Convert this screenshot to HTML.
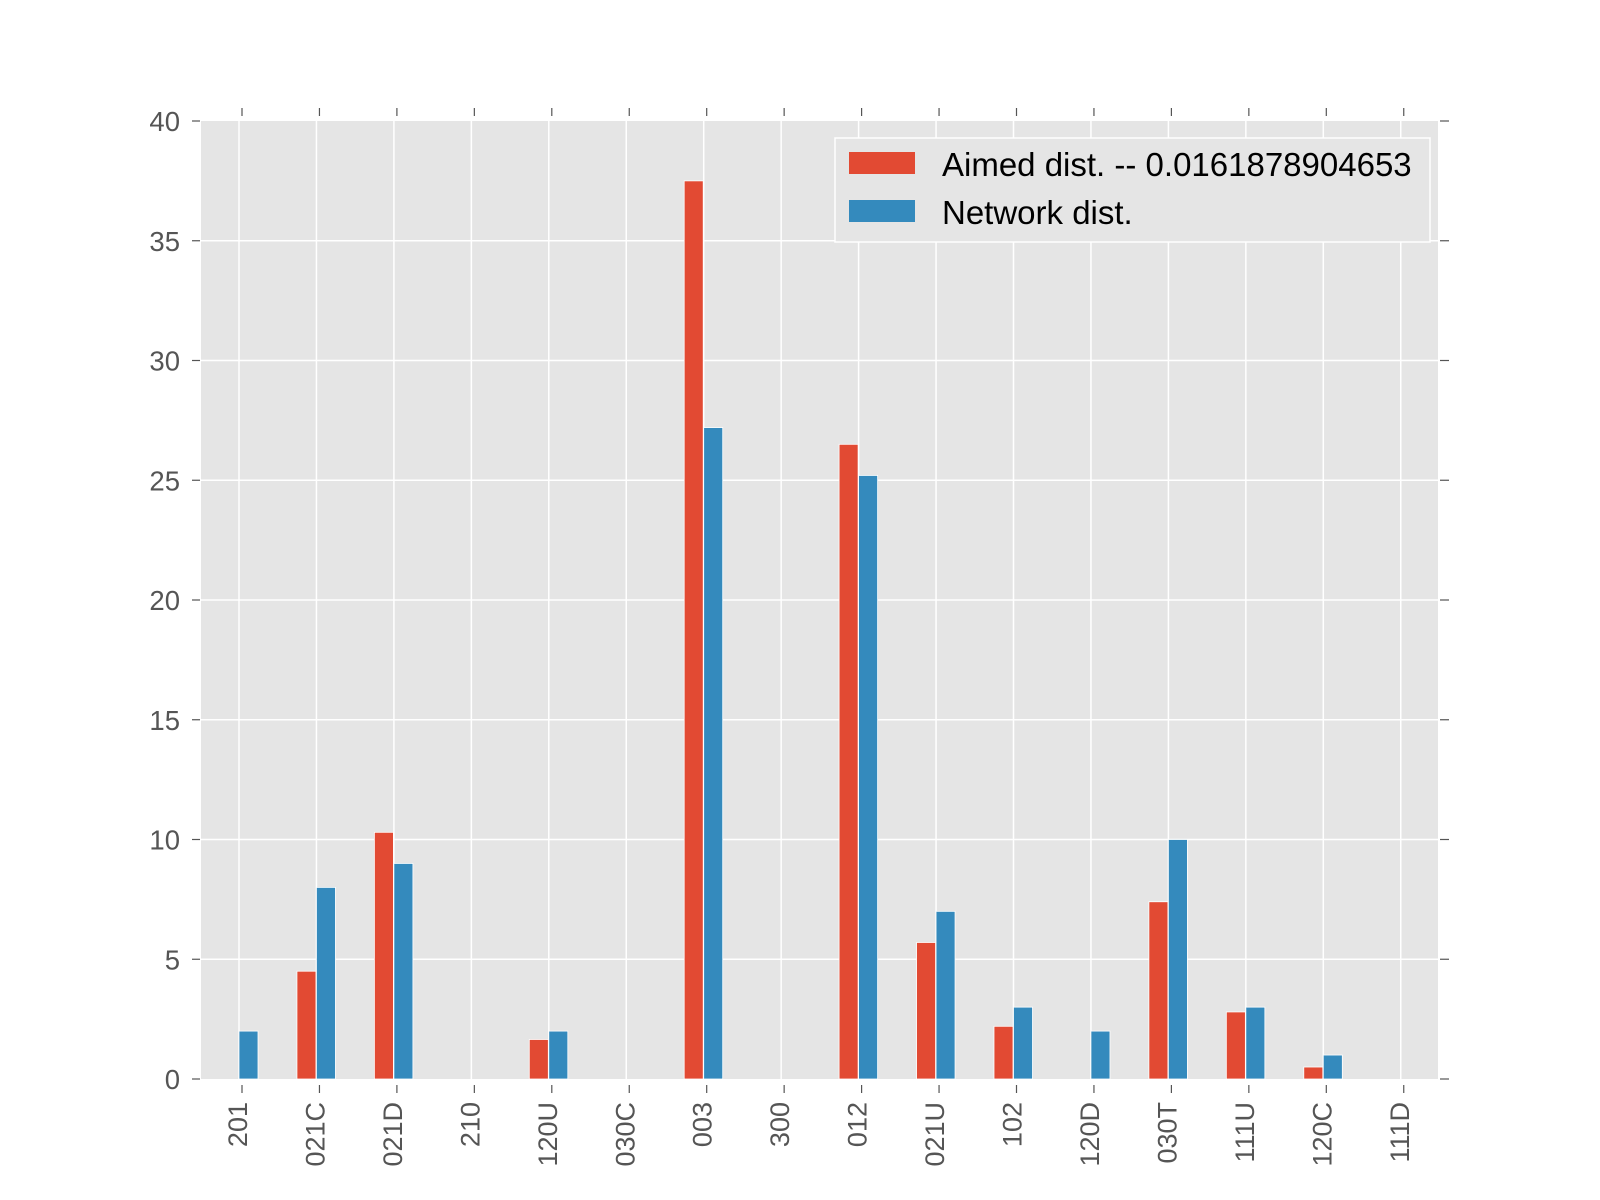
<!DOCTYPE html>
<html><head><meta charset="utf-8"><style>
html,body{margin:0;padding:0;background:#fff;width:1600px;height:1200px;overflow:hidden}
svg text{font-family:"Liberation Sans",sans-serif}
</style></head><body>
<svg id="chart" width="1600" height="1200" xmlns="http://www.w3.org/2000/svg">
<rect x="201" y="121" width="1237" height="958" fill="#e5e5e5"/>
<g id="grid"></g><g id="bars"></g><g id="axes"></g>
<g>
<rect x="835" y="138" width="595" height="104" fill="#e5e5e5" stroke="#fff" stroke-width="1.5"/>
<rect x="849" y="152" width="66" height="22" fill="#e24a33"/>
<text x="942" y="176" font-size="33" fill="#000">Aimed dist. -- 0.0161878904653</text>
<rect x="849" y="200" width="66" height="22" fill="#348abd"/>
<text x="942" y="224" font-size="33" fill="#000">Network dist.</text>
</g>
</svg>
<script>
const categories=["201","021C","021D","210","120U","030C","003","300","012","021U","102","120D","030T","111U","120C","111D"];
const aimed=[0,4.5,10.3,0,1.65,0,37.5,0,26.5,5.7,2.2,0,7.4,2.8,0.5,0];
const network=[2,8,9,0,2,0,27.2,0,25.2,7,3,2,10,3,1,0];
const yTicks=[0,5,10,15,20,25,30,35,40];
const NS="http://www.w3.org/2000/svg";
const L=201,R=1438,T=121,B=1079;
const y=v=>B-(v/40)*(B-T);
const xt=i=>242+77.45*i;
function mk(tag,at,parent){const e=document.createElementNS(NS,tag);for(const k in at)e.setAttribute(k,at[k]);parent.appendChild(e);return e;}
const grid=document.getElementById('grid'),bars=document.getElementById('bars'),axes=document.getElementById('axes');
yTicks.forEach(v=>{
  if(v>0&&v<40){const g=mk('line',{x1:L,x2:R,y1:y(v),y2:y(v),stroke:'#fff','stroke-width':1.5},grid);
  
  }
  mk('line',{x1:L-9,x2:L-1,y1:y(v),y2:y(v),stroke:'#555','stroke-width':1.2},axes);
  mk('line',{x1:R+2,x2:R+11,y1:y(v),y2:y(v),stroke:'#555','stroke-width':1.2},axes);
  const t=mk('text',{x:L-21,y:y(v)+10,'font-size':27.5,fill:'#555','text-anchor':'end'},axes);
  t.textContent=v;
  
  
});
categories.forEach((c,i)=>{
  const t=xt(i);
  const g=mk('line',{x1:t-3,x2:t-3,y1:T,y2:B,stroke:'#fff','stroke-width':1.5},grid);
  
  
  mk('line',{x1:t,x2:t,y1:T-13,y2:T-5,stroke:'#555','stroke-width':1.2},axes);
  mk('line',{x1:t,x2:t,y1:B+6,y2:B+14,stroke:'#555','stroke-width':1.2},axes);
  const a=mk('rect',{x:t-22.5,y:y(aimed[i]),width:19,height:B-y(aimed[i]),fill:'#e24a33',stroke:'#fff','stroke-width':0.8},bars);
  
  
  const n=mk('rect',{x:t-3,y:y(network[i]),width:19,height:B-y(network[i]),fill:'#348abd',stroke:'#fff','stroke-width':0.8},bars);
  
  
  const lb=mk('text',{x:0,y:0,'font-size':27,fill:'#555','text-anchor':'end',transform:`translate(${t+5},1102) rotate(-90)`},axes);
  lb.textContent=c;
  
  
});
</script>
</body></html>
